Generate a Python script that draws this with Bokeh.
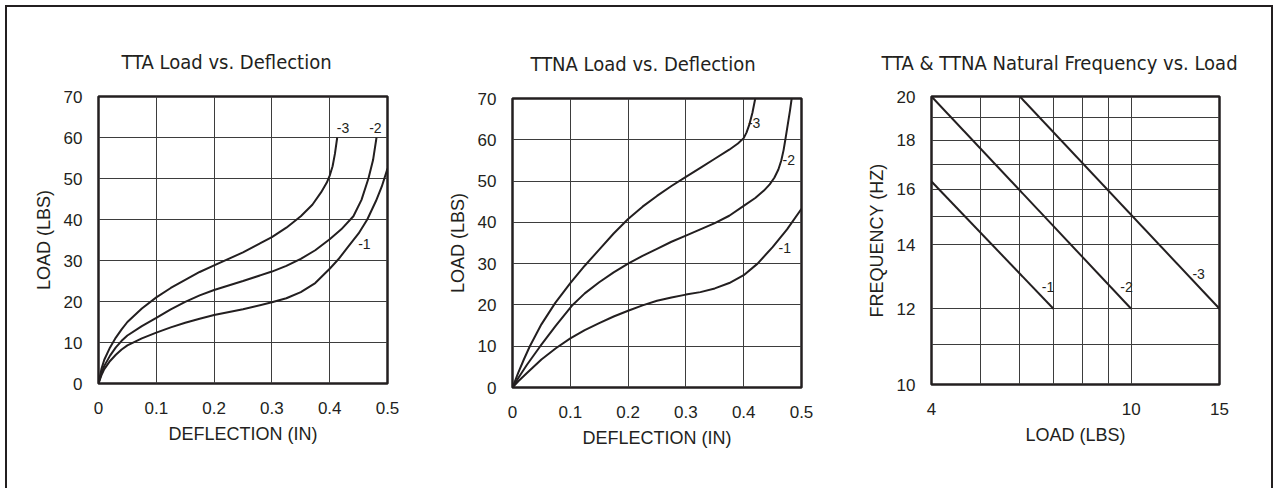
from bokeh.plotting import figure
from bokeh.layouts import row
from bokeh.models import FixedTicker, NumeralTickFormatter
from bokeh.core.properties import value
from bokeh.embed import file_html
from bokeh.resources import INLINE

# ---------------- data ----------------
# TTA Load vs. Deflection
tta_x_1 = [0, 0.005, 0.01, 0.02, 0.03, 0.04, 0.05, 0.075, 0.1, 0.125, 0.15, 0.175, 0.2, 0.25, 0.3,
           0.325, 0.35, 0.375, 0.4, 0.415, 0.43, 0.45, 0.465, 0.48, 0.49, 0.5]
tta_y_1 = [0, 2, 3.5, 5.5, 7, 8.3, 9.3, 11, 12.4, 13.7, 14.8, 15.8, 16.7, 18.1, 19.8,
           20.8, 22.3, 24.5, 28, 30.3, 33, 36.6, 40, 44.5, 48, 52.4]
tta_x_2 = [0, 0.005, 0.01, 0.02, 0.03, 0.04, 0.05, 0.075, 0.1, 0.125, 0.15, 0.175, 0.2, 0.25, 0.3,
           0.325, 0.35, 0.375, 0.4, 0.42, 0.441, 0.455, 0.467, 0.475, 0.481]
tta_y_2 = [0, 2.5, 4.3, 6.8, 8.8, 10.4, 11.7, 14, 16, 18.1, 19.9, 21.5, 22.8, 25, 27.3,
           28.7, 30.4, 32.5, 35.2, 37.6, 40.8, 44.8, 50, 54.5, 60]
tta_x_3 = [0, 0.005, 0.01, 0.02, 0.03, 0.04, 0.05, 0.075, 0.1, 0.125, 0.15, 0.175, 0.2, 0.25, 0.3,
           0.325, 0.35, 0.37, 0.385, 0.395, 0.4, 0.405, 0.409, 0.413]
tta_y_3 = [0, 3.5, 5.8, 8.8, 11.2, 13.2, 15, 18.3, 21, 23.3, 25.3, 27.2, 28.8, 32, 35.7,
           38, 40.8, 43.6, 46.6, 49, 50.7, 53, 56, 60]

# TTNA Load vs. Deflection
ttna_x_1 = [0, 0.01, 0.025, 0.05, 0.075, 0.1, 0.125, 0.15, 0.175, 0.2, 0.225, 0.25, 0.275, 0.3,
            0.325, 0.35, 0.375, 0.4, 0.424, 0.45, 0.475, 0.5]
ttna_y_1 = [0, 1.5, 3.5, 6.8, 9.5, 11.9, 13.9, 15.6, 17.2, 18.6, 19.9, 21, 21.8, 22.5,
            23.1, 24, 25.3, 27.2, 30, 34, 38.3, 43.3]
ttna_x_2 = [0, 0.01, 0.025, 0.048, 0.075, 0.104, 0.125, 0.15, 0.175, 0.2, 0.225, 0.25, 0.275, 0.3,
            0.325, 0.35, 0.375, 0.4, 0.42, 0.435, 0.445, 0.453, 0.46, 0.465, 0.469, 0.472,
            0.476, 0.48, 0.483]
ttna_y_2 = [0, 2.3, 5.5, 10, 15, 20, 22.8, 25.5, 27.9, 30, 31.9, 33.6, 35.3, 36.8,
            38.3, 39.8, 41.6, 44, 45.9, 47.7, 49.2, 50.8, 52.8, 55, 57.5, 60,
            63.5, 67, 70]
ttna_x_3 = [0, 0.01, 0.02, 0.03, 0.05, 0.074, 0.1, 0.125, 0.15, 0.175, 0.2, 0.225, 0.25, 0.275,
            0.3, 0.325, 0.35, 0.375, 0.39, 0.4, 0.405, 0.41, 0.415, 0.42]
ttna_y_3 = [0, 3.6, 6.9, 10, 15.3, 20.5, 25.3, 29.5, 33.4, 37.3, 40.8, 43.8, 46.4, 48.8,
            51, 53.2, 55.4, 57.6, 59.1, 60.4, 61.8, 63.8, 66.5, 70]

# TTA & TTNA Natural Frequency vs. Load
freq_x_1 = [4, 7]
freq_y_1 = [16.3, 12]
freq_x_2 = [4, 10]
freq_y_2 = [20, 12]
freq_x_3 = [6, 15]
freq_y_3 = [20, 12]

series_labels = ["-1", "-2", "-3"]
tta_label_x = [0.46, 0.479, 0.423]
tta_label_y = [34.1, 62.2, 62.2]
ttna_label_x = [0.471, 0.478, 0.418]
ttna_label_y = [33.7, 55.2, 64.1]
freq_label_x = [6.83, 9.79, 13.63]
freq_label_y = [12.63, 12.63, 13.06]

defl_ticks = [0, 0.1, 0.2, 0.3, 0.4, 0.5]
load_ticks = [0, 10, 20, 30, 40, 50, 60, 70]
freq_load_ticks = [4, 10, 15]
freq_ticks = [10, 12, 14, 16, 18, 20]
freq_load_grid = [5, 6, 7, 8, 9, 10]
freq_grid = [11, 12, 14, 15, 16, 17, 18, 19]

# ---------------- style ----------------
INK = "#231f20"
GRID = "#3d3d3d"
TFONT = "'Liberation Sans Narrow', 'DejaVu Sans Condensed', Roboto, sans-serif"
LFONT = "Liberation Sans"


def make_fig(width, height, left, top, right, bottom, title, title_offset, title_standoff, **kw):
    p = figure(width=width, height=height,
               min_border_left=left, min_border_top=top,
               min_border_right=right, min_border_bottom=bottom,
               frame_align=False,
               output_backend="svg", toolbar_location=None, **kw)
    p.title.text = title
    p.title.align = "left"
    p.title.offset = title_offset
    p.title.standoff = title_standoff
    p.title.text_font = TFONT
    p.title.text_font_size = "20px"
    p.title.text_font_style = "normal"
    p.title.text_color = INK
    p.outline_line_color = INK
    p.outline_line_width = 2.5
    p.background_fill_color = "white"
    p.border_fill_color = "white"
    for ax in (p.xaxis[0], p.yaxis[0]):
        ax.axis_line_color = None
        ax.major_tick_line_color = None
        ax.minor_tick_line_color = None
        ax.major_tick_out = 0
        ax.major_tick_in = 0
        ax.minor_tick_out = 0
        ax.minor_tick_in = 0
        ax.major_label_text_font = LFONT
        ax.major_label_text_font_size = "17px"
        ax.major_label_text_color = INK
        ax.axis_label_text_font = LFONT
        ax.axis_label_text_font_size = "18px"
        ax.axis_label_text_font_style = "normal"
        ax.axis_label_text_color = INK
    p.xaxis[0].major_label_standoff = 18
    p.yaxis[0].major_label_standoff = 16
    p.xaxis[0].axis_label_standoff = 7
    p.yaxis[0].axis_label_standoff = 7
    p.xgrid.grid_line_color = GRID
    p.ygrid.grid_line_color = GRID
    p.xgrid.grid_line_width = 1
    p.ygrid.grid_line_width = 1
    return p


def add_curves(p, xs, ys, lx, ly):
    for x, y in zip(xs, ys):
        p.line(x, y, line_color=INK, line_width=2)
    p.text(x=lx, y=ly, text=series_labels, text_font=value(LFONT), text_font_size="14px",
           text_color=INK, text_align="center", text_baseline="middle")


# Chart 1
p1 = make_fig(433, 500, 91, 89, 53, 124, "TTA Load vs. Deflection", 23, 45,
              x_range=(0, 0.5), y_range=(0, 70))
p1.xaxis.axis_label = "DEFLECTION (IN)"
p1.yaxis.axis_label = "LOAD (LBS)"
p1.xaxis.ticker = FixedTicker(ticks=defl_ticks)
p1.yaxis.ticker = FixedTicker(ticks=load_ticks)
p1.xaxis.major_label_overrides = {0: "0"}
p1.xgrid.ticker = FixedTicker(ticks=defl_ticks[1:-1])
p1.ygrid.ticker = FixedTicker(ticks=load_ticks[1:-1])
add_curves(p1, [tta_x_1, tta_x_2, tta_x_3], [tta_y_1, tta_y_2, tta_y_3], tta_label_x, tta_label_y)

# Chart 2
p2 = make_fig(419, 500, 72, 91, 58, 120, "TTNA Load vs. Deflection", 18, 46,
              x_range=(0, 0.5), y_range=(0, 70))
p2.xaxis.axis_label = "DEFLECTION (IN)"
p2.yaxis.axis_label = "LOAD (LBS)"
p2.xaxis.ticker = FixedTicker(ticks=defl_ticks)
p2.yaxis.ticker = FixedTicker(ticks=load_ticks)
p2.xaxis.major_label_overrides = {0: "0"}
p2.xgrid.ticker = FixedTicker(ticks=defl_ticks[1:-1])
p2.ygrid.ticker = FixedTicker(ticks=load_ticks[1:-1])
add_curves(p2, [ttna_x_1, ttna_x_2, ttna_x_3], [ttna_y_1, ttna_y_2, ttna_y_3], ttna_label_x, ttna_label_y)

# Chart 3
p3 = make_fig(412, 500, 72, 89, 52, 123, "TTA & TTNA Natural Frequency vs. Load", -50, 43,
              x_range=(4, 15), y_range=(10, 20), x_axis_type="log", y_axis_type="log")
p3.xaxis.axis_label = "LOAD (LBS)"
p3.yaxis.axis_label = "FREQUENCY (HZ)"
p3.xaxis.ticker = FixedTicker(ticks=freq_load_ticks)
p3.yaxis.ticker = FixedTicker(ticks=freq_ticks)
p3.xaxis.formatter = NumeralTickFormatter(format="0")
p3.yaxis.formatter = NumeralTickFormatter(format="0")
p3.xgrid.ticker = FixedTicker(ticks=freq_load_grid)
p3.ygrid.ticker = FixedTicker(ticks=freq_grid)
add_curves(p3, [freq_x_1, freq_x_2, freq_x_3], [freq_y_1, freq_y_2, freq_y_3], freq_label_x, freq_label_y)

layout = row(p1, p2, p3, styles={"position": "fixed", "left": "5px", "top": "5px",
                                 "border": f"2px solid {INK}", "background": "white"})

open("out.html", "w").write(file_html(layout, INLINE))
